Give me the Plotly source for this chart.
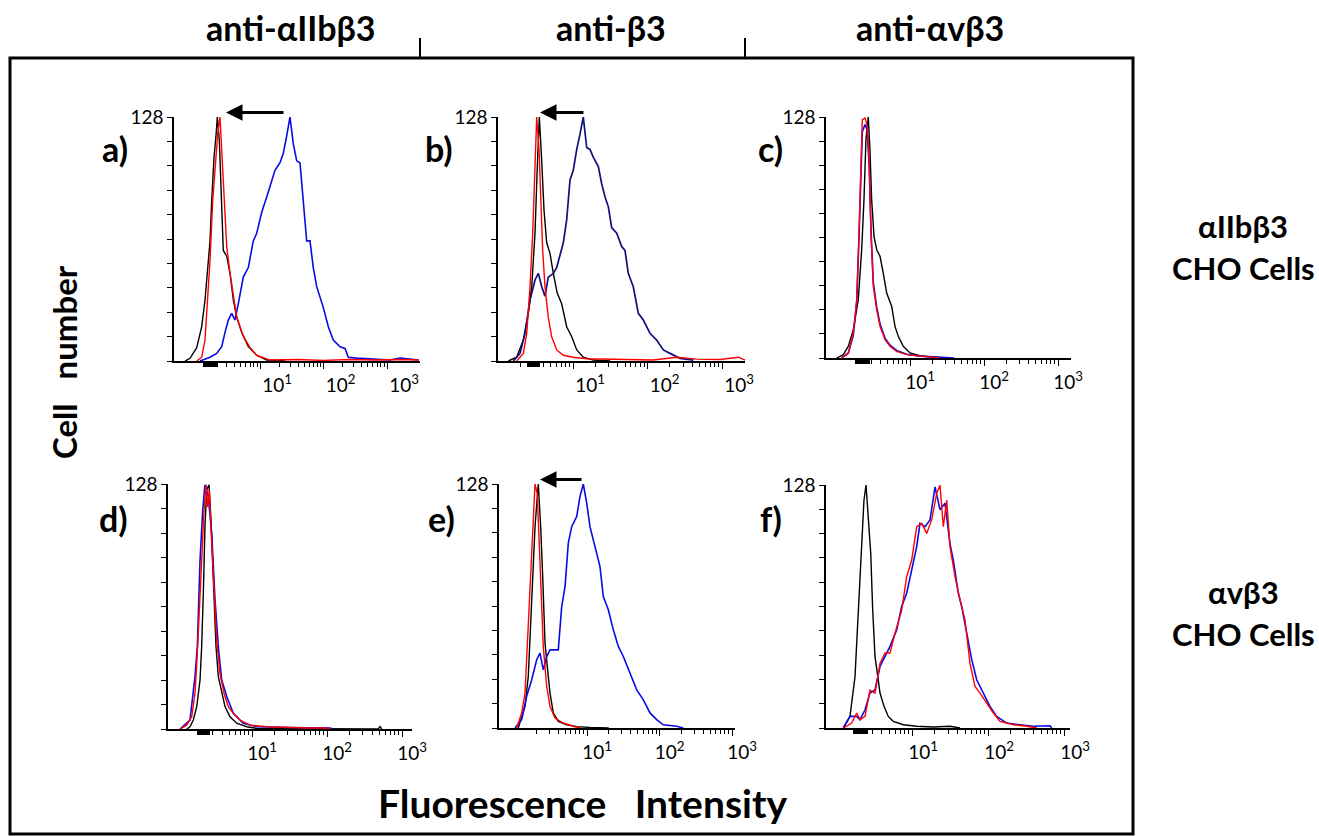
import plotly.graph_objects as go

# ---------------- data (log10 fluorescence position, cell count) ----------------
A_BLACK_LOG = [-0.181, -0.102, 0.003, 0.082, 0.134, 0.161, 0.213, 0.239, 0.276, 0.307, 0.328, 0.359, 0.386, 0.422, 0.476, 0.528, 0.580, 0.633, 0.712, 0.816, 0.948, 1.106, 1.4]
A_BLACK_CNT = [0, 1.4, 7, 18, 32, 42.5, 63, 84, 107, 118, 128, 116, 88, 58, 55, 46, 32, 23, 15, 7.5, 3, 0.5, 0]
A_RED_LOG = [0.003, 0.082, 0.134, 0.170, 0.213, 0.255, 0.291, 0.334, 0.370, 0.397, 0.422, 0.476, 0.528, 0.580, 0.633, 0.737, 0.843, 0.948, 1.157, 1.6, 2.0, 2.4, 2.8, 3.2, 3.5]
A_RED_CNT = [0, 2, 11, 28, 53, 84, 102, 119, 128, 111, 88, 60, 46, 34, 23, 13, 7, 3, 0.5, 0.8, 0.3, 0.8, 0.5, 0.8, 0.5]
A_BLUE_LOG = [0.055, 0.213, 0.318, 0.397, 0.449, 0.501, 0.554, 0.606, 0.658, 0.737, 0.816, 0.894, 0.948, 1.027, 1.106, 1.184, 1.236, 1.315, 1.367, 1.420, 1.472, 1.524, 1.578, 1.630, 1.682, 1.735, 1.787, 1.839, 1.893, 1.945, 1.997, 2.076, 2.154, 2.260, 2.339, 2.391, 2.523, 2.784, 3.047, 3.205, 3.5]
A_BLUE_CNT = [0, 2, 4, 7.5, 15, 21.5, 25, 21.5, 30, 44, 49, 63, 67, 78, 86, 95, 100, 104, 109, 118, 128, 114, 105, 104, 84, 63, 63, 49, 39, 34, 28, 18, 11, 7.5, 6.6, 2, 1.5, 1, 0.5, 1.5, 0.5]

B_BLACK_LOG = [0.132, 0.244, 0.333, 0.400, 0.446, 0.490, 0.521, 0.548, 0.580, 0.611, 0.647, 0.691, 0.736, 0.789, 0.848, 0.915, 0.983, 1.050, 1.138, 1.272, 1.5]
B_BLACK_CNT = [0, 2, 11, 25, 39, 67, 102, 128, 105, 79, 62, 56.5, 46, 35.5, 30, 18, 12.7, 5.8, 2, 0.5, 0]
B_RED_LOG = [0.244, 0.333, 0.379, 0.423, 0.459, 0.490, 0.513, 0.544, 0.566, 0.593, 0.624, 0.668, 0.714, 0.781, 0.870, 1.004, 1.184, 2.078, 2.392, 2.660, 2.973, 3.219, 3.309]
B_RED_CNT = [0, 4, 14.5, 39, 67, 102, 128, 111, 84, 58, 39, 23, 12.7, 5.8, 3, 2, 1.2, 0.5, 2, 1, 0.8, 2, 0.5]
B_BLUE_LOG = [0.199, 0.289, 0.356, 0.423, 0.490, 0.534, 0.580, 0.624, 0.668, 0.736, 0.781, 0.826, 0.870, 0.915, 0.960, 1.004, 1.050, 1.094, 1.138, 1.184, 1.228, 1.272, 1.340, 1.385, 1.430, 1.474, 1.519, 1.587, 1.654, 1.698, 1.742, 1.809, 1.877, 1.944, 2.034, 2.123, 2.212, 2.302, 2.436, 2.615]
B_BLUE_CNT = [0, 4, 14.5, 32, 42.5, 46, 39, 34, 44, 46, 49, 55, 62, 74, 95, 100, 111, 119, 128, 112, 111, 107, 102, 93, 86, 81, 70, 67, 60, 58, 46, 39, 25, 21.5, 14.5, 11, 5.8, 4, 1.4, 0.5]

C_BLACK_LOG = [0.009, 0.099, 0.166, 0.234, 0.301, 0.347, 0.378, 0.405, 0.436, 0.459, 0.482, 0.514, 0.550, 0.595, 0.639, 0.685, 0.753, 0.797, 0.842, 0.909, 1.0, 1.135, 1.270, 1.5]
C_BLACK_CNT = [0, 1.8, 6.2, 15, 31, 57.5, 84, 116, 128, 110.5, 84, 64.5, 57.5, 54, 45, 34.5, 27.4, 16.8, 11.5, 6.2, 2.7, 1.2, 0.5, 0]
C_RED_LOG = [0.077, 0.166, 0.234, 0.280, 0.311, 0.334, 0.355, 0.392, 0.423, 0.450, 0.473, 0.504, 0.550, 0.595, 0.662, 0.730, 0.820, 0.955, 1.135, 1.315, 1.405]
C_RED_CNT = [0, 2.7, 13.3, 31, 66, 102, 126.5, 127.5, 123, 102, 66, 38, 25.6, 16.8, 9.7, 6.2, 3.5, 1.8, 1.2, 0.5, 0]
C_BLUE_LOG = [0.077, 0.166, 0.234, 0.280, 0.311, 0.334, 0.355, 0.392, 0.423, 0.450, 0.473, 0.504, 0.550, 0.595, 0.662, 0.730, 0.820, 0.955, 1.135, 1.315, 1.6]
C_BLUE_CNT = [0, 2.5, 12, 30, 64, 100, 120, 124, 121, 100, 68, 40, 27, 18, 10.5, 6.8, 4, 2, 1, 0.6, 0]

D_BLACK_LOG = [0.129, 0.173, 0.217, 0.263, 0.307, 0.329, 0.351, 0.373, 0.396, 0.427, 0.453, 0.484, 0.520, 0.551, 0.596, 0.640, 0.707, 0.796, 0.929, 1.063, 2.68, 2.707, 2.73]
D_BLACK_CNT = [0, 1.2, 4.7, 11.7, 25.6, 43, 71, 106, 125, 127.6, 109, 74.4, 43, 27.4, 18.7, 11.7, 6.4, 3, 1.2, 0.3, 0, 1.2, 0]
D_RED_LOG = [0.04, 0.129, 0.196, 0.24, 0.271, 0.307, 0.329, 0.36, 0.387, 0.409, 0.431, 0.463, 0.493, 0.529, 0.573, 0.627, 0.684, 0.751, 0.84, 0.973, 1.196, 1.463, 1.729, 1.996, 2.04]
D_RED_CNT = [0, 2, 6.4, 18.7, 39.6, 74.4, 88, 114.5, 127.6, 116, 125, 97, 71, 46.5, 29, 18.7, 11.7, 8.2, 4.7, 2, 1.2, 0.8, 0.5, 0.5, 0]
D_BLUE_LOG = [0.04, 0.173, 0.24, 0.271, 0.307, 0.343, 0.373, 0.417, 0.463, 0.507, 0.551, 0.596, 0.663, 0.751, 0.884, 1.063, 1.507, 2.04, 2.08]
D_BLUE_CNT = [0, 4.7, 27.4, 43, 88, 114.5, 127.6, 121.5, 102, 67.5, 43, 25.6, 17, 8.2, 3, 1.2, 0.8, 0.5, 0]

E_BLACK_LOG = [0.052, 0.145, 0.190, 0.237, 0.283, 0.328, 0.361, 0.389, 0.421, 0.452, 0.490, 0.535, 0.604, 0.720, 0.858, 1.04, 1.3]
E_BLACK_CNT = [0, 11.3, 27, 70.7, 105.6, 128, 105.6, 79.4, 44.5, 32.3, 18.3, 7.9, 3.5, 1.7, 0.7, 0.3, 0]
E_RED_LOG = [0.030, 0.099, 0.145, 0.190, 0.237, 0.283, 0.314, 0.352, 0.397, 0.444, 0.490, 0.559, 0.673, 0.811, 0.903]
E_RED_CNT = [0, 7.9, 18.3, 53, 97, 128, 123, 88, 42.8, 21.8, 11.3, 5.2, 2.6, 0.9, 0]
E_BLUE_LOG = [0.007, 0.099, 0.168, 0.237, 0.306, 0.352, 0.397, 0.444, 0.490, 0.559, 0.604, 0.651, 0.697, 0.742, 0.789, 0.858, 0.903, 0.949, 0.996, 1.041, 1.110, 1.179, 1.225, 1.294, 1.363, 1.432, 1.501, 1.593, 1.686, 1.777, 1.869, 1.961, 2.052, 2.237, 2.328]
E_BLUE_CNT = [0, 4.4, 16.6, 25.3, 35.8, 39.3, 30.5, 37.5, 41, 41, 41, 63.7, 74.2, 97, 105.6, 111, 121.4, 128, 118, 105.6, 95, 84.7, 69, 62, 51.5, 42.8, 37.5, 28.8, 20, 14.8, 7.9, 4.4, 1.7, 0.9, 0]

F_BLACK_LOG = [0.096, 0.184, 0.250, 0.293, 0.338, 0.368, 0.395, 0.425, 0.457, 0.483, 0.513, 0.543, 0.579, 0.632, 0.688, 0.754, 0.886, 1.062, 1.280, 1.5, 1.632]
F_BLACK_CNT = [0, 6.1, 27, 62, 97, 120, 128, 109.6, 92, 62, 37.7, 29, 18.4, 11.4, 6.1, 3.5, 1.7, 0.9, 0.5, 0.9, 0]
F_BLUE_LOG = [0.096, 0.184, 0.272, 0.316, 0.382, 0.447, 0.513, 0.579, 0.645, 0.711, 0.799, 0.864, 0.930, 0.996, 1.062, 1.105, 1.171, 1.237, 1.303, 1.368, 1.434, 1.5, 1.543, 1.609, 1.654, 1.720, 1.786, 1.851, 1.938, 2.026, 2.114, 2.246, 2.421, 2.596, 2.816, 2.838]
F_BLUE_CNT = [0, 6.1, 6.1, 4.4, 9.6, 18.4, 20, 32.4, 37.7, 43, 51.7, 64, 71, 83.3, 95.5, 107.8, 106, 109.6, 127, 115, 118.4, 97, 88.5, 71, 64, 50, 36, 25.4, 18.4, 11.4, 6.1, 2.6, 1.7, 0.9, 1.2, 0]
F_RED_LOG = [0.096, 0.207, 0.272, 0.316, 0.382, 0.447, 0.513, 0.579, 0.645, 0.711, 0.776, 0.864, 0.930, 0.996, 1.062, 1.128, 1.193, 1.259, 1.325, 1.368, 1.412, 1.457, 1.5, 1.566, 1.632, 1.697, 1.763, 1.829, 1.895, 1.983, 2.070, 2.158, 2.333, 2.509, 2.641]
F_RED_CNT = [0, 2.6, 7.9, 4.4, 6.1, 20, 18.4, 34, 39.5, 39.5, 50, 62, 79.7, 88.5, 106, 107.8, 102.5, 109.6, 123.6, 128, 106, 120, 95.5, 79.7, 67.5, 57, 34, 21.9, 18.4, 13.2, 7.9, 3.5, 1.7, 0.9, 0]

PANEL_LABELS = ["a)", "b)", "c)", "d)", "e)", "f)"]
COLUMN_TITLES = ["anti-\u03b1IIb\u03b23", "anti-\u03b23", "anti-\u03b1v\u03b23"]
ROW_TITLES = [["\u03b1IIb\u03b23", "CHO Cells"], ["\u03b1v\u03b23", "CHO Cells"]]
X_TICK_VALUES = [10, 100, 1000]
X_TICK_TEXT = ["10<sup>1</sup>", "10<sup>2</sup>", "10<sup>3</sup>"]
Y_MAX = 128
# shift arrows (log10 from -> log10 to) for panels a, b, e
ARROWS = {"a": (1.394, 0.465), "b": (1.161, 0.557), "e": (0.945, 0.352)}
# gate marker under the axis (log10 lo, hi)
GATES = {"a": (0.102, 0.339), "b": (0.383, 0.557), "c": (0.257, 0.459),
         "d": (0.267, 0.440), "f": (0.224, 0.421)}

PANELS = [
    ("a", [(A_BLACK_LOG, A_BLACK_CNT, "black"), (A_BLUE_LOG, A_BLUE_CNT, "blue"), (A_RED_LOG, A_RED_CNT, "red")]),
    ("b", [(B_BLACK_LOG, B_BLACK_CNT, "black"), (B_BLUE_LOG, B_BLUE_CNT, "navy"), (B_RED_LOG, B_RED_CNT, "red")]),
    ("c", [(C_BLACK_LOG, C_BLACK_CNT, "black"), (C_BLUE_LOG, C_BLUE_CNT, "blue"), (C_RED_LOG, C_RED_CNT, "red")]),
    ("d", [(D_BLACK_LOG, D_BLACK_CNT, "black"), (D_BLUE_LOG, D_BLUE_CNT, "blue"), (D_RED_LOG, D_RED_CNT, "red")]),
    ("e", [(E_BLACK_LOG, E_BLACK_CNT, "black"), (E_BLUE_LOG, E_BLUE_CNT, "blue"), (E_RED_LOG, E_RED_CNT, "red")]),
    ("f", [(F_BLACK_LOG, F_BLACK_CNT, "black"), (F_BLUE_LOG, F_BLUE_CNT, "blue"), (F_RED_LOG, F_RED_CNT, "red")]),
]

# ---------------- styling / geometry (pixels) ----------------
W, H = 1319, 836
COLORS = {"black": "#000000", "red": "#ff0000", "blue": "#0a0ae6", "navy": "#10107a"}
WIDTHS = {"black": 1.4, "red": 1.4, "blue": 1.6, "navy": 1.7}
FONT = "Lato, Carlito, Calibri, 'Open Sans', sans-serif"
# x0, x1, px of 10^1 tick, px per decade, top px, bottom px, tick-label shift
GEOM = {
    "a": (174, 420, 260, 63.5, 117, 361, 17),
    "b": (498, 745, 573, 74.5, 117, 361, 17),
    "c": (826, 1071, 910, 74.0, 117, 358, 10),
    "d": (168, 412, 252, 75.0, 484, 729, 10),
    "e": (499, 735, 587, 72.5, 484, 728, 10),
    "f": (826, 1070, 912, 76.0, 485, 728, 11),
}
LABEL_POS = {"a": (115, 149), "b": (439, 149), "c": (770, 149),
             "d": (113, 518), "e": (441, 518), "f": (771, 518)}

MINOR = [k * 10 ** n for n in range(0, 3) for k in range(2, 10)]
Y_TICKS = [Y_MAX * i / 10 for i in range(11)]
Y_TEXT = [""] * 10 + [str(Y_MAX)]


def pxx(p):
    return p / W


def pxy(p):
    return 1 - p / H


fig = go.Figure()
layout = dict(
    width=W, height=H, margin=dict(l=0, r=0, t=0, b=0, pad=0, autoexpand=False),
    paper_bgcolor="white", plot_bgcolor="rgba(0,0,0,0)", showlegend=False,
    font=dict(family=FONT, color="black"),
)
annotations = []
shapes = []

for i, (key, curves) in enumerate(PANELS, start=1):
    x0, x1, t1, dec, top, bot, shift = GEOM[key]
    lo = 1 - (t1 - x0) / dec
    hi = 1 + (x1 - t1) / dec
    sx = "" if i == 1 else str(i)
    for logs, cnt, col in curves:
        fig.add_trace(go.Scatter(
            x=[10 ** v for v in logs], y=cnt, mode="lines",
            line=dict(color=COLORS[col], width=WIDTHS[col]),
            xaxis="x" + sx, yaxis="y" + sx, hoverinfo="skip", showlegend=False,
        ))
    layout["xaxis" + sx] = dict(
        type="log", range=[lo, hi], domain=[pxx(x0), pxx(x1)], anchor="y" + sx,
        showline=True, linecolor="black", linewidth=1.5, mirror=False, automargin=False,
        ticks="outside", ticklen=6, tickwidth=1, tickcolor="black",
        tickmode="array", tickvals=X_TICK_VALUES, ticktext=X_TICK_TEXT,
        tickfont=dict(family=FONT, size=19, color="black"), ticklabelshift=shift,
        showgrid=False, zeroline=False, fixedrange=True,
        minor=dict(tickmode="array", tickvals=MINOR, ticks="outside", ticklen=4,
                   tickwidth=1, tickcolor="black", showgrid=False),
    )
    layout["yaxis" + sx] = dict(
        range=[0, Y_MAX], domain=[pxy(bot), pxy(top)], anchor="x" + sx,
        showline=True, linecolor="black", linewidth=1.5, automargin=False,
        ticks="outside", ticklen=5, tickwidth=1, tickcolor="black",
        tickmode="array", tickvals=Y_TICKS, ticktext=Y_TEXT,
        tickfont=dict(family=FONT, size=19, color="black"),
        showgrid=False, zeroline=False, fixedrange=True,
    )
    lx, ly = LABEL_POS[key]
    annotations.append(dict(text="<b>%s</b>" % PANEL_LABELS[i - 1], x=pxx(lx), y=pxy(ly),
                            xref="paper", yref="paper", showarrow=False,
                            font=dict(family=FONT, size=34, color="black"),
                            xanchor="center", yanchor="middle"))
    if key in ARROWS:
        a_from, a_to = ARROWS[key]
        annotations.append(dict(text="", x=a_to, y=1.018, ax=a_from, ay=1.018,
                                xref="x" + sx, yref="y%s domain" % sx,
                                axref="x" + sx, ayref="y%s domain" % sx,
                                showarrow=True, arrowhead=2, arrowsize=1.1, arrowwidth=3,
                                arrowcolor="black", standoff=0, startstandoff=0))
    if key in GATES:
        g_lo, g_hi = GATES[key]
        shapes.append(dict(type="rect", xref="x" + sx, yref="paper",
                           x0=10 ** g_lo, x1=10 ** g_hi, y0=pxy(bot + 6), y1=pxy(bot),
                           fillcolor="black", line=dict(width=0)))

for txt, cx in zip(COLUMN_TITLES, [290, 611, 930]):
    annotations.append(dict(text="<b>%s</b>" % txt, x=pxx(cx), y=pxy(28), xref="paper", yref="paper",
                            showarrow=False, font=dict(family=FONT, size=34, color="black"),
                            xanchor="center", yanchor="middle"))
for (l1, l2), (y1, y2) in zip(ROW_TITLES, [(226, 268), (592, 634)]):
    for txt, yy in ((l1, y1), (l2, y2)):
        annotations.append(dict(text="<b>%s</b>" % txt, x=pxx(1243), y=pxy(yy), xref="paper", yref="paper",
                                showarrow=False, font=dict(family=FONT, size=31, color="black"),
                                xanchor="center", yanchor="middle"))
annotations.append(dict(text="<b>Cell\u00a0\u00a0\u00a0number</b>", x=pxx(64), y=pxy(362), xref="paper", yref="paper",
                        showarrow=False, textangle=-90, font=dict(family=FONT, size=33, color="black"),
                        xanchor="center", yanchor="middle"))
annotations.append(dict(text="<b>Fluorescence\u00a0\u00a0\u00a0Intensity</b>", x=pxx(582), y=pxy(803),
                        xref="paper", yref="paper", showarrow=False,
                        font=dict(family=FONT, size=39, color="black"), xanchor="center", yanchor="middle"))

shapes.append(dict(type="rect", xref="paper", yref="paper", x0=pxx(10), x1=pxx(1133), y0=pxy(834), y1=pxy(58),
                   line=dict(color="black", width=3), fillcolor="rgba(0,0,0,0)"))
for sxp in (420, 745):
    shapes.append(dict(type="line", xref="paper", yref="paper", x0=pxx(sxp), x1=pxx(sxp), y0=pxy(58), y1=pxy(38),
                       line=dict(color="black", width=2)))

layout["annotations"] = annotations
layout["shapes"] = shapes
fig.update_layout(**layout)

fig.write_html("out.html", config={"displayModeBar": False},
               post_script="document.body.style.margin='0px';document.body.style.overflow='hidden';")
